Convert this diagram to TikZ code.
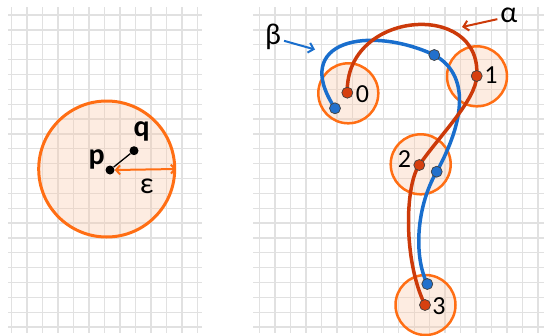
\documentclass[tikz,border=0pt]{standalone}
\usepackage{fontspec}
\setmainfont{Carlito}
\usetikzlibrary{arrows.meta}
\definecolor{gridc}{RGB}{225,225,225}
\definecolor{ringc}{RGB}{255,110,20}
\definecolor{ringfill}{RGB}{250,200,170}
\definecolor{alphac}{RGB}{204,58,10}
\definecolor{betac}{RGB}{25,110,205}
\definecolor{reddotc}{RGB}{214,64,16}
\definecolor{bluedotc}{RGB}{34,112,204}
\begin{document}
\begin{tikzpicture}[x=1pt,y=-1pt,
  gridline/.style={gridc, line width=1.3pt},
  ring/.style={circle, draw=ringc, line width=2.5pt, fill=ringfill, fill opacity=0.35, draw opacity=1, minimum size=60pt, inner sep=0pt},
  bigring/.style={ring, line width=3pt, minimum size=136pt},
  alphacurve/.style={alphac, line width=3.5pt},
  betacurve/.style={betac, line width=3.5pt},
  reddot/.style={circle, fill=reddotc, draw=black!75, line width=0.7pt, minimum size=11pt, inner sep=0pt},
  bluedot/.style={circle, fill=bluedotc, draw=black!75, line width=0.7pt, minimum size=11pt, inner sep=0pt},
  blackdot/.style={circle, fill=black, minimum size=9pt, inner sep=0pt},
  numlabel/.style={inner sep=0pt, font=\fontsize{26}{26}\selectfont},
  greeklabel/.style={inner sep=0pt, font=\fontsize{30}{30}\selectfont},
  ptlabel/.style={inner sep=0pt, font=\fontsize{30}{30}\selectfont\bfseries},
  arr/.style={line width=2pt, -{Straight Barb[length=5pt,width=10pt]}, shorten <=3pt},
  ]
\useasboundingbox (0,0) rectangle (544,335);
% left grid
\foreach \i in {0,...,12} \draw[gridline] (11.5+15.5*\i,7) -- (11.5+15.5*\i,333);
\foreach \j in {0,...,21} \draw[gridline] (8,15+14.86*\j) -- (202,15+14.86*\j);
% right grid
\foreach \i in {0,...,18} \draw[gridline] (259.5+15.47*\i,7) -- (259.5+15.47*\i,333);
\foreach \j in {0,...,21} \draw[gridline] (253,15+14.86*\j) -- (544,15+14.86*\j);

% left panel
\node[bigring] (disk) at (106.7,169) {};
\node[blackdot] (p) at (110,170) {};
\node[blackdot] (q) at (134,150.7) {};
\draw[black, line width=1.3pt] (p) -- (q);
\draw[ringc, line width=2pt, {Straight Barb[length=4pt,width=9pt]}-{Straight Barb[length=4pt,width=9pt]}] (p.east) -- (disk.east);
\node[ptlabel] (plab) at (96.7,159) {p};
\node[ptlabel] (qlab) at (141.7,131) {q};
\node[greeklabel] (eps) at (146.7,186) {ε};

% right panel rings
\node[ring] (c0) at (348.3,93.3) {};
\node[ring] (c1) at (477,76.3) {};
\node[ring] (c2) at (420.7,164.3) {};
\node[ring] (c3) at (425.5,305) {};

% dot positions
\coordinate (r0) at (347.3,92.7);
\coordinate (r1) at (476.7,76);
\coordinate (r2) at (419.3,165);
\coordinate (r3) at (425,305);
\coordinate (b0) at (335,108.3);
\coordinate (b1) at (434.3,55);
\coordinate (b2) at (436.7,171.7);
\coordinate (b3) at (427.3,284);

% curves
\draw[betacurve] (b0) .. controls (290,40) and (370,25) .. (b1)
  .. controls (470,75) and (465,120) .. (b2)
  .. controls (417,205) and (413,255) .. (b3);
\draw[alphacurve] (r0) .. controls (345,10) and (482,0) .. (r1)
  .. controls (476,100) and (440,135) .. (r2)
  .. controls (405,185) and (403,260) .. (r3);

% dots
\node[reddot] (d0) at (r0) {};
\node[reddot] (d1) at (r1) {};
\node[reddot] (d2) at (r2) {};
\node[reddot] (d3) at (r3) {};
\node[bluedot] (e0) at (b0) {};
\node[bluedot] (e1) at (b1) {};
\node[bluedot] (e2) at (b2) {};
\node[bluedot] (e3) at (b3) {};

% labels
\node[numlabel] (l0) at (362.5,94) {0};
\node[numlabel] (l1) at (491,75.5) {1};
\node[numlabel] (l2) at (404.5,159.5) {2};
\node[numlabel] (l3) at (439,306) {3};

\node[greeklabel] (alab) at (509,15) {α};
\coordinate (atip) at (462,27);
\draw[alphac, arr] (alab.west |- 0,18.5) -- (atip);
\node[greeklabel] (blab) at (273,37) {β};
\coordinate (btip) at (315,49.5);
\draw[betac, arr] (blab.east |- 0,40) -- (btip);
\end{tikzpicture}
\end{document}
